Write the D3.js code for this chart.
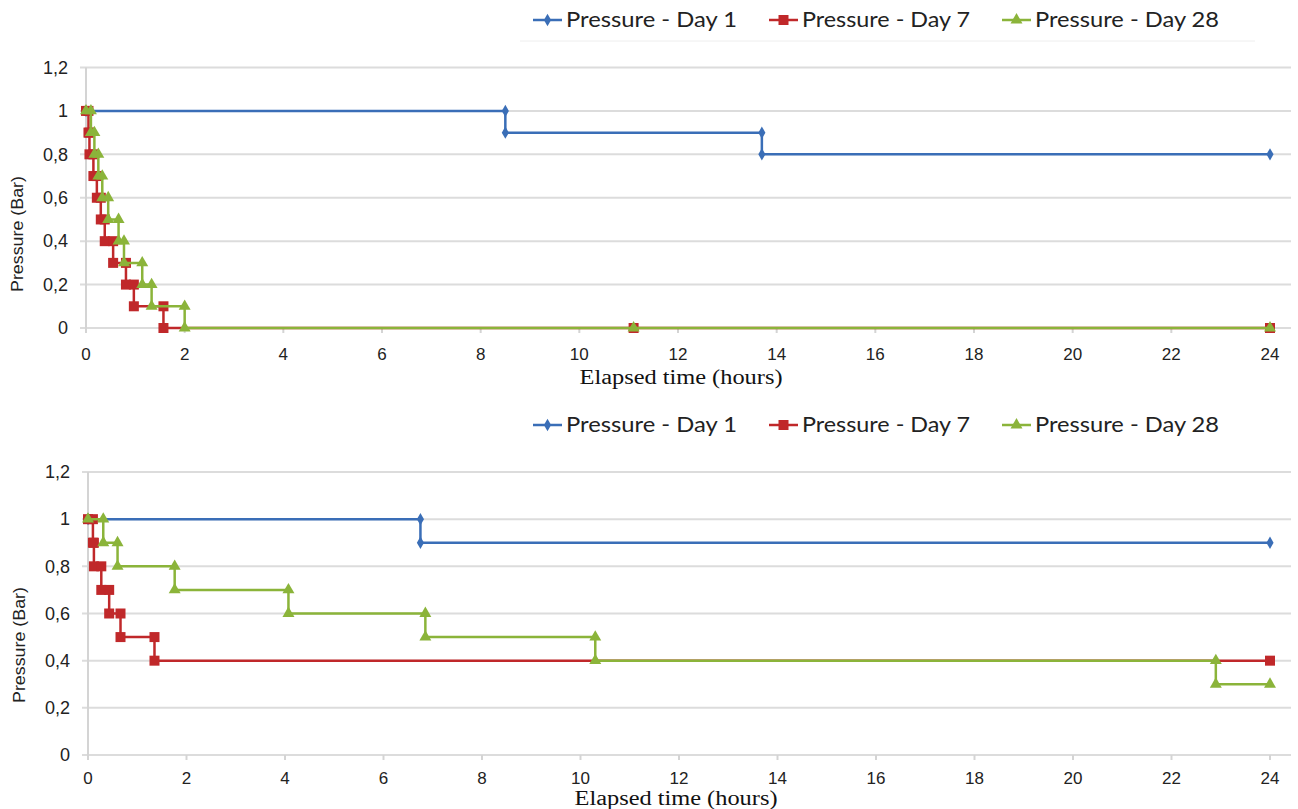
<!DOCTYPE html>
<html>
<head>
<meta charset="utf-8">
<script src="https://cdn.jsdelivr.net/npm/d3@7"></script>
<style>
  body { margin: 0; background: #fff; }
  svg { display: block; }
  .tick-label { font-family: "Liberation Sans", Arial, sans-serif; font-size: 17px; fill: #222; }
  .y-tick { font-size: 18px; }
  .x-title { font-family: "Liberation Serif", "Times New Roman", serif; font-size: 20px; fill: #111; }
  .y-title { font-family: "Liberation Sans", Arial, sans-serif; font-size: 17px; fill: #222; }
  .legend-text { font-family: Lato, "Open Sans", sans-serif; font-size: 21px; fill: #222; }
</style>
</head>
<body>
<div id="chart"></div>
<script>
// axis ticks
var hourTicks = [0, 2, 4, 6, 8, 10, 12, 14, 16, 18, 20, 22, 24];
var pressureTicks = [0, 0.2, 0.4, 0.6, 0.8, 1, 1.2];
var seriesNames = ["Pressure - Day 1", "Pressure - Day 7", "Pressure - Day 28"];
var seriesColors = ["#3a6eb7", "#c0282a", "#8bb43a"];
var seriesMarkers = ["diamond", "square", "triangle"];

// top chart: [hours, bar]
var topDay1 = [[0, 1], [8.5, 1], [8.5, 0.9], [13.7, 0.9], [13.7, 0.8], [24, 0.8]];
var topDay7 = [[0, 1], [0.05, 1], [0.05, 0.9], [0.07, 0.9], [0.07, 0.8], [0.15, 0.8], [0.15, 0.7],
  [0.22, 0.7], [0.22, 0.6], [0.3, 0.6], [0.3, 0.5], [0.38, 0.5], [0.38, 0.4], [0.55, 0.4],
  [0.55, 0.3], [0.81, 0.3], [0.81, 0.2], [0.97, 0.2], [0.97, 0.1], [1.57, 0.1], [1.57, 0],
  [11.1, 0], [24, 0]];
var topDay28 = [[0, 1], [0.1, 1], [0.1, 0.9], [0.17, 0.9], [0.17, 0.8], [0.25, 0.8], [0.25, 0.7],
  [0.33, 0.7], [0.33, 0.6], [0.45, 0.6], [0.45, 0.5], [0.66, 0.5], [0.66, 0.4], [0.77, 0.4],
  [0.77, 0.3], [1.14, 0.3], [1.14, 0.2], [1.33, 0.2], [1.33, 0.1], [2, 0.1], [2, 0],
  [11.1, 0], [24, 0]];

// bottom chart: [hours, bar]
var bottomDay1 = [[0, 1], [6.75, 1], [6.75, 0.9], [24, 0.9]];
var bottomDay7 = [[0, 1], [0.1, 1], [0.1, 0.9], [0.12, 0.9], [0.12, 0.8], [0.27, 0.8], [0.27, 0.7],
  [0.43, 0.7], [0.43, 0.6], [0.66, 0.6], [0.66, 0.5], [1.35, 0.5], [1.35, 0.4], [24, 0.4]];
var bottomDay28 = [[0, 1], [0.31, 1], [0.31, 0.9], [0.6, 0.9], [0.6, 0.8], [1.76, 0.8], [1.76, 0.7],
  [4.07, 0.7], [4.07, 0.6], [6.85, 0.6], [6.85, 0.5], [10.3, 0.5], [10.3, 0.4], [22.9, 0.4],
  [22.9, 0.3], [24, 0.3]];

var width = 1298, height = 809;
var svg = d3.select("#chart").append("svg")
    .attr("width", width)
    .attr("height", height);

var panels = [
  { series: [topDay1, topDay7, topDay28], left: 86, right: 1270, gridEnd: 1291,
    zeroY: 328, topY: 67.5, legendY: 20, tickLabelY: 360, xTitleY: 384, xTitleX: 681,
    yTitleX: 23, yTitleY: 234, divider: true },
  { series: [bottomDay1, bottomDay7, bottomDay28], left: 88, right: 1270, gridEnd: 1291,
    zeroY: 755, topY: 472, legendY: 425, tickLabelY: 784, xTitleY: 805, xTitleX: 676,
    yTitleX: 25, yTitleY: 645, divider: false }
];

// legend text widths as seen (the picture is a bit stretched sideways)
var legendX = [533, 769, 1002];
var legendTextLen = [171, 168, 184];

var fmt = function (v) { return String(d3.format("~g")(v)).replace(".", ","); };

function marker(sel, type, color) {
  if (type === "diamond") {
    sel.append("path").attr("d", d3.symbol(d3.symbolDiamond, 44)()).attr("fill", color);
  } else if (type === "square") {
    sel.append("rect").attr("x", -5).attr("y", -5).attr("width", 10).attr("height", 10).attr("fill", color);
  } else {
    sel.append("path").attr("d", d3.symbol(d3.symbolTriangle, 62)()).attr("fill", color);
  }
}

panels.forEach(function (p) {
  var x = d3.scaleLinear().domain([0, 24]).range([p.left, p.right]);
  var y = d3.scaleLinear().domain([0, 1.2]).range([p.zeroY, p.topY]);
  var g = svg.append("g");

  // gridlines
  g.selectAll(".grid").data(pressureTicks).enter().append("line")
      .attr("x1", x(0) - 6).attr("x2", p.gridEnd)
      .attr("y1", function (d) { return y(d); })
      .attr("y2", function (d) { return y(d); })
      .attr("stroke", "#dcdcdc").attr("stroke-width", 2);

  // y axis line
  g.append("line")
      .attr("x1", x(0)).attr("x2", x(0))
      .attr("y1", y(1.2)).attr("y2", y(0) + 5)
      .attr("stroke", "#d4d4d4").attr("stroke-width", 2);

  // x tick marks
  g.selectAll(".xtick").data(hourTicks).enter().append("line")
      .attr("x1", function (d) { return x(d); })
      .attr("x2", function (d) { return x(d); })
      .attr("y1", y(0)).attr("y2", y(0) + 5)
      .attr("stroke", "#d4d4d4").attr("stroke-width", 2);

  g.selectAll(".xlab").data(hourTicks).enter().append("text")
      .attr("class", "tick-label")
      .attr("x", function (d) { return x(d); })
      .attr("y", p.tickLabelY)
      .attr("text-anchor", "middle")
      .text(function (d) { return d; });

  g.selectAll(".ylab").data(pressureTicks).enter().append("text")
      .attr("class", "tick-label y-tick")
      .attr("x", x(0) - 18)
      .attr("y", function (d) { return y(d); })
      .attr("dy", "0.35em")
      .attr("text-anchor", "end")
      .text(fmt);

  g.append("text")
      .attr("class", "x-title")
      .attr("x", p.xTitleX).attr("y", p.xTitleY)
      .attr("text-anchor", "middle")
      .attr("textLength", 203)
      .attr("lengthAdjust", "spacingAndGlyphs")
      .text("Elapsed time (hours)");

  g.append("text")
      .attr("class", "y-title")
      .attr("transform", "translate(" + p.yTitleX + "," + p.yTitleY + ") rotate(-90)")
      .attr("text-anchor", "middle")
      .attr("textLength", 116)
      .attr("lengthAdjust", "spacingAndGlyphs")
      .text("Pressure (Bar)");

  var line = d3.line()
      .x(function (d) { return x(d[0]); })
      .y(function (d) { return y(d[1]); });

  p.series.forEach(function (data, i) {
    var color = seriesColors[i];
    g.append("path")
        .datum(data)
        .attr("d", line)
        .attr("fill", "none")
        .attr("stroke", color)
        .attr("stroke-width", 2.5);
    g.selectAll(".m" + i).data(data).enter().append("g")
        .attr("transform", function (d) { return "translate(" + x(d[0]) + "," + y(d[1]) + ")"; })
        .each(function () { marker(d3.select(this), seriesMarkers[i], color); });
  });

  // legend
  var lg = g.append("g");
  seriesNames.forEach(function (name, i) {
    var item = lg.append("g").attr("transform", "translate(" + legendX[i] + "," + p.legendY + ")");
    item.append("line").attr("x1", 0).attr("x2", 29).attr("y1", 0).attr("y2", 0)
        .attr("stroke", seriesColors[i]).attr("stroke-width", 2.5);
    marker(item.append("g").attr("transform", "translate(14.5,0)"), seriesMarkers[i], seriesColors[i]);
    item.append("text").attr("class", "legend-text")
        .attr("x", 33).attr("y", 0).attr("dy", "0.35em")
        .attr("textLength", legendTextLen[i])
        .attr("lengthAdjust", "spacingAndGlyphs")
        .text(name);
  });
  if (p.divider) {
    g.append("line").attr("x1", 520).attr("x2", 1255)
        .attr("y1", p.legendY + 21).attr("y2", p.legendY + 21)
        .attr("stroke", "#eeeeee").attr("stroke-width", 1);
  }
});
</script>
</body>
</html>
